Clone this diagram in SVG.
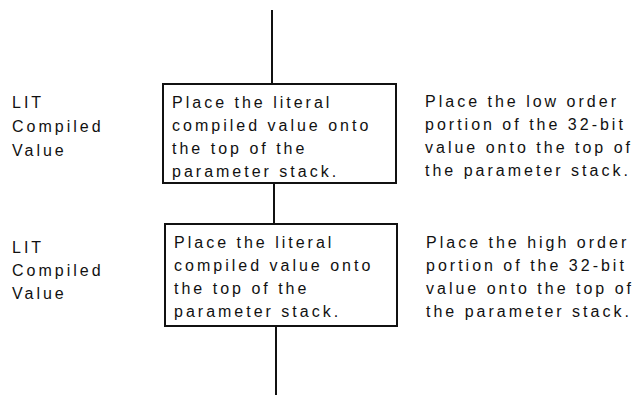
<svg xmlns="http://www.w3.org/2000/svg" width="641" height="396" viewBox="0 0 641 396">
<style>
text{font-family:"Liberation Sans",Arial,sans-serif;font-size:16px;letter-spacing:3px;fill:#111}
.box{fill:#fff;stroke:#111;stroke-width:2}
.conn{stroke:#111;stroke-width:2;fill:none}
</style>
<rect width="641" height="396" fill="#fff"/>
<g id="connectors">
<line class="conn" x1="272" y1="10" x2="272" y2="84"/>
<line class="conn" x1="274" y1="183" x2="274" y2="224"/>
<line class="conn" x1="276" y1="326" x2="276" y2="395"/>
</g>
<g id="label1">
<text x="12" y="108">LIT</text>
<text x="12" y="132">Compiled</text>
<text x="12" y="156">Value</text>
</g>
<g id="box1">
<rect class="box" x="163" y="84" width="233" height="99"/>
<text x="172" y="108">Place the literal</text>
<text x="172" y="131">compiled value onto</text>
<text x="172" y="154">the top of the</text>
<text x="172" y="177">parameter stack.</text>
</g>
<g id="desc1">
<text x="425" y="107">Place the low order</text>
<text x="425" y="130">portion of the 32-bit</text>
<text x="425" y="153">value onto the top of</text>
<text x="425" y="176">the parameter stack.</text>
</g>
<g id="label2">
<text x="12" y="253">LIT</text>
<text x="12" y="276">Compiled</text>
<text x="12" y="299">Value</text>
</g>
<g id="box2">
<rect class="box" x="165" y="224" width="232" height="102"/>
<text x="174" y="248">Place the literal</text>
<text x="174" y="271">compiled value onto</text>
<text x="174" y="294">the top of the</text>
<text x="174" y="317">parameter stack.</text>
</g>
<g id="desc2">
<text x="426" y="248">Place the high order</text>
<text x="426" y="271">portion of the 32-bit</text>
<text x="426" y="294">value onto the top of</text>
<text x="426" y="317">the parameter stack.</text>
</g>
</svg>
